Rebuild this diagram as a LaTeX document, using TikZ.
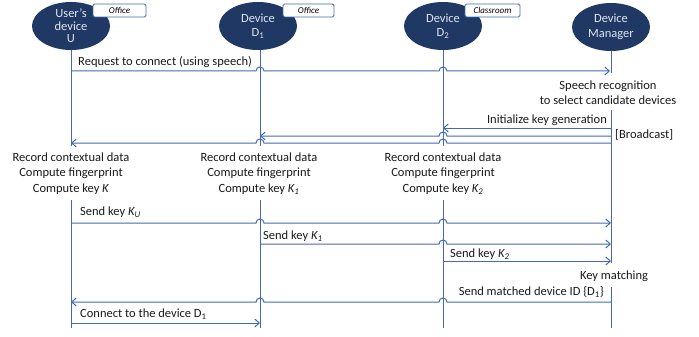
\documentclass[tikz,border=0pt]{standalone}
\usepackage{fontspec}
\setmainfont{Carlito}
\usetikzlibrary{shapes.geometric,arrows.meta}
\definecolor{navy}{RGB}{32,56,100}
\definecolor{wire}{RGB}{68,106,176}
\definecolor{pale}{RGB}{222,229,241}
\begin{document}
\begin{tikzpicture}[x=1pt,y=-1pt,
  actor/.style={ellipse,fill=navy,text=pale,minimum width=78pt,minimum height=48pt,
    inner sep=0pt,align=center,font=\fontsize{12.5}{14.5}\selectfont},
  place/.style={draw=wire,line width=0.9pt,fill=white,rounded corners=1.5pt,minimum height=13pt,
    inner sep=0pt,font=\fontsize{9}{10}\selectfont\itshape},
  life/.style={draw=wire,line width=1pt},
  msg/.style={draw=wire,line width=1pt,-{Straight Barb[length=4.5pt,width=8pt]}},
  txt/.style={inner sep=0pt,align=center,text=black!90,font=\fontsize{12.5}{15.5}\selectfont}]
\useasboundingbox (0,0) rectangle (699,337);
% devices
\node[actor] (U) at (71,26) {User's\\[-2pt]device\\[-2pt]U};
\node[actor] (D1) at (258,26) {Device\\D\textsubscript{1}};
\node[actor] (D2) at (443,26) {Device\\D\textsubscript{2}};
\node[actor] (DM) at (611,27) {Device\\Manager};
\node[place,minimum width=53pt] (U-p) at (119.5,10.5) {Office};
\node[place,minimum width=51pt] (D1-p) at (308.5,10.5) {Office};
\node[place,minimum width=55pt] (D2-p) at (492.5,10.5) {Classroom};
% lifelines
\foreach \dev/\x in {U/71,D1/260,D2/443}{
  \coordinate (\dev-a) at (\x,146);
  \coordinate (\dev-b) at (\x,200);
  \coordinate (\dev-c) at (\x,328);
  \draw[life] (\x,50) -- (\dev-a);
  \draw[life] (\dev-b) -- (\dev-c);
}
\coordinate (DM-a) at (611,73);
\coordinate (DM-b) at (611,110);
\coordinate (DM-c) at (611,263);
\coordinate (DM-d) at (611,287);
\coordinate (DM-e) at (611,328);
\draw[life] (DM.south) -- (DM-a);
\draw[life] (DM-b) -- (DM-c);
\draw[life] (DM-d) -- (DM-e);
% request
\coordinate (U-m1) at (71,71);
\coordinate (DM-m1) at (610,71);
\draw[msg] (U-m1) -- (256,71) arc[start angle=180,end angle=360,radius=4]
  -- (439,71) arc[start angle=180,end angle=360,radius=4] -- (DM-m1);
\node[txt,anchor=west] (l1) at (78,62) {Request to connect (using speech)};
\node[txt] (sr) at (608,92.5) {Speech recognition\\to select candidate devices};
% broadcast
\coordinate (DM-m2) at (611,128);
\coordinate (D2-m2) at (443,128);
\draw[msg] (DM-m2) -- (D2-m2);
\coordinate (DM-m3) at (611,136);
\coordinate (D1-m3) at (260,136);
\draw[msg] (DM-m3) -- (447,136) arc[start angle=0,end angle=-180,radius=4] -- (D1-m3);
\coordinate (DM-m4) at (611,143);
\coordinate (U-m4) at (71,143);
\draw[msg] (DM-m4) -- (447,143) arc[start angle=0,end angle=-180,radius=4]
  -- (264,143) arc[start angle=0,end angle=-180,radius=4] -- (U-m4);
\node[txt,anchor=east] (l2) at (607,120) {Initialize key generation};
\node[txt,anchor=west] (bc) at (615,135) {[Broadcast]};
% local computation
\node[txt] (c-U) at (71,173.5) {Record contextual data\\Compute fingerprint\\Compute key \textit{K}};
\node[txt] (c-D1) at (259,173.5) {Record contextual data\\Compute fingerprint\\Compute key \textit{K\textsubscript{1}}};
\node[txt] (c-D2) at (443,173.5) {Record contextual data\\Compute fingerprint\\Compute key \textit{K\textsubscript{2}}};
% keys
\coordinate (U-m5) at (71,223);
\coordinate (DM-m5) at (611,223);
\draw[msg] (U-m5) -- (256,223) arc[start angle=180,end angle=360,radius=4]
  -- (439,223) arc[start angle=180,end angle=360,radius=4] -- (DM-m5);
\node[txt,anchor=west] (l5) at (80,212) {Send key \textit{K\textsubscript{U}}};
\coordinate (D1-m6) at (260,244);
\coordinate (DM-m6) at (611,244);
\draw[msg] (D1-m6) -- (439,244) arc[start angle=180,end angle=360,radius=4] -- (DM-m6);
\node[txt,anchor=west] (l6) at (263,236) {Send key \textit{K\textsubscript{1}}};
\coordinate (D2-m7) at (443,261);
\coordinate (DM-m7) at (611,261);
\draw[msg] (D2-m7) -- (DM-m7);
\node[txt,anchor=west] (l7) at (450,254) {Send key \textit{K\textsubscript{2}}};
\node[txt] (km) at (614,276) {Key matching};
% result
\coordinate (DM-m8) at (611,302);
\coordinate (U-m8) at (71,302);
\draw[msg] (DM-m8) -- (447,302) arc[start angle=0,end angle=-180,radius=4]
  -- (264,302) arc[start angle=0,end angle=-180,radius=4] -- (U-m8);
\node[txt,anchor=east] (l8) at (604,292) {Send matched device ID \{D\textsubscript{1}\}};
\coordinate (U-m9) at (71,323);
\coordinate (D1-m9) at (260,323);
\draw[msg] (U-m9) -- (D1-m9);
\node[txt,anchor=west] (l9) at (80,314) {Connect to the device D\textsubscript{1}};
\end{tikzpicture}
\end{document}
